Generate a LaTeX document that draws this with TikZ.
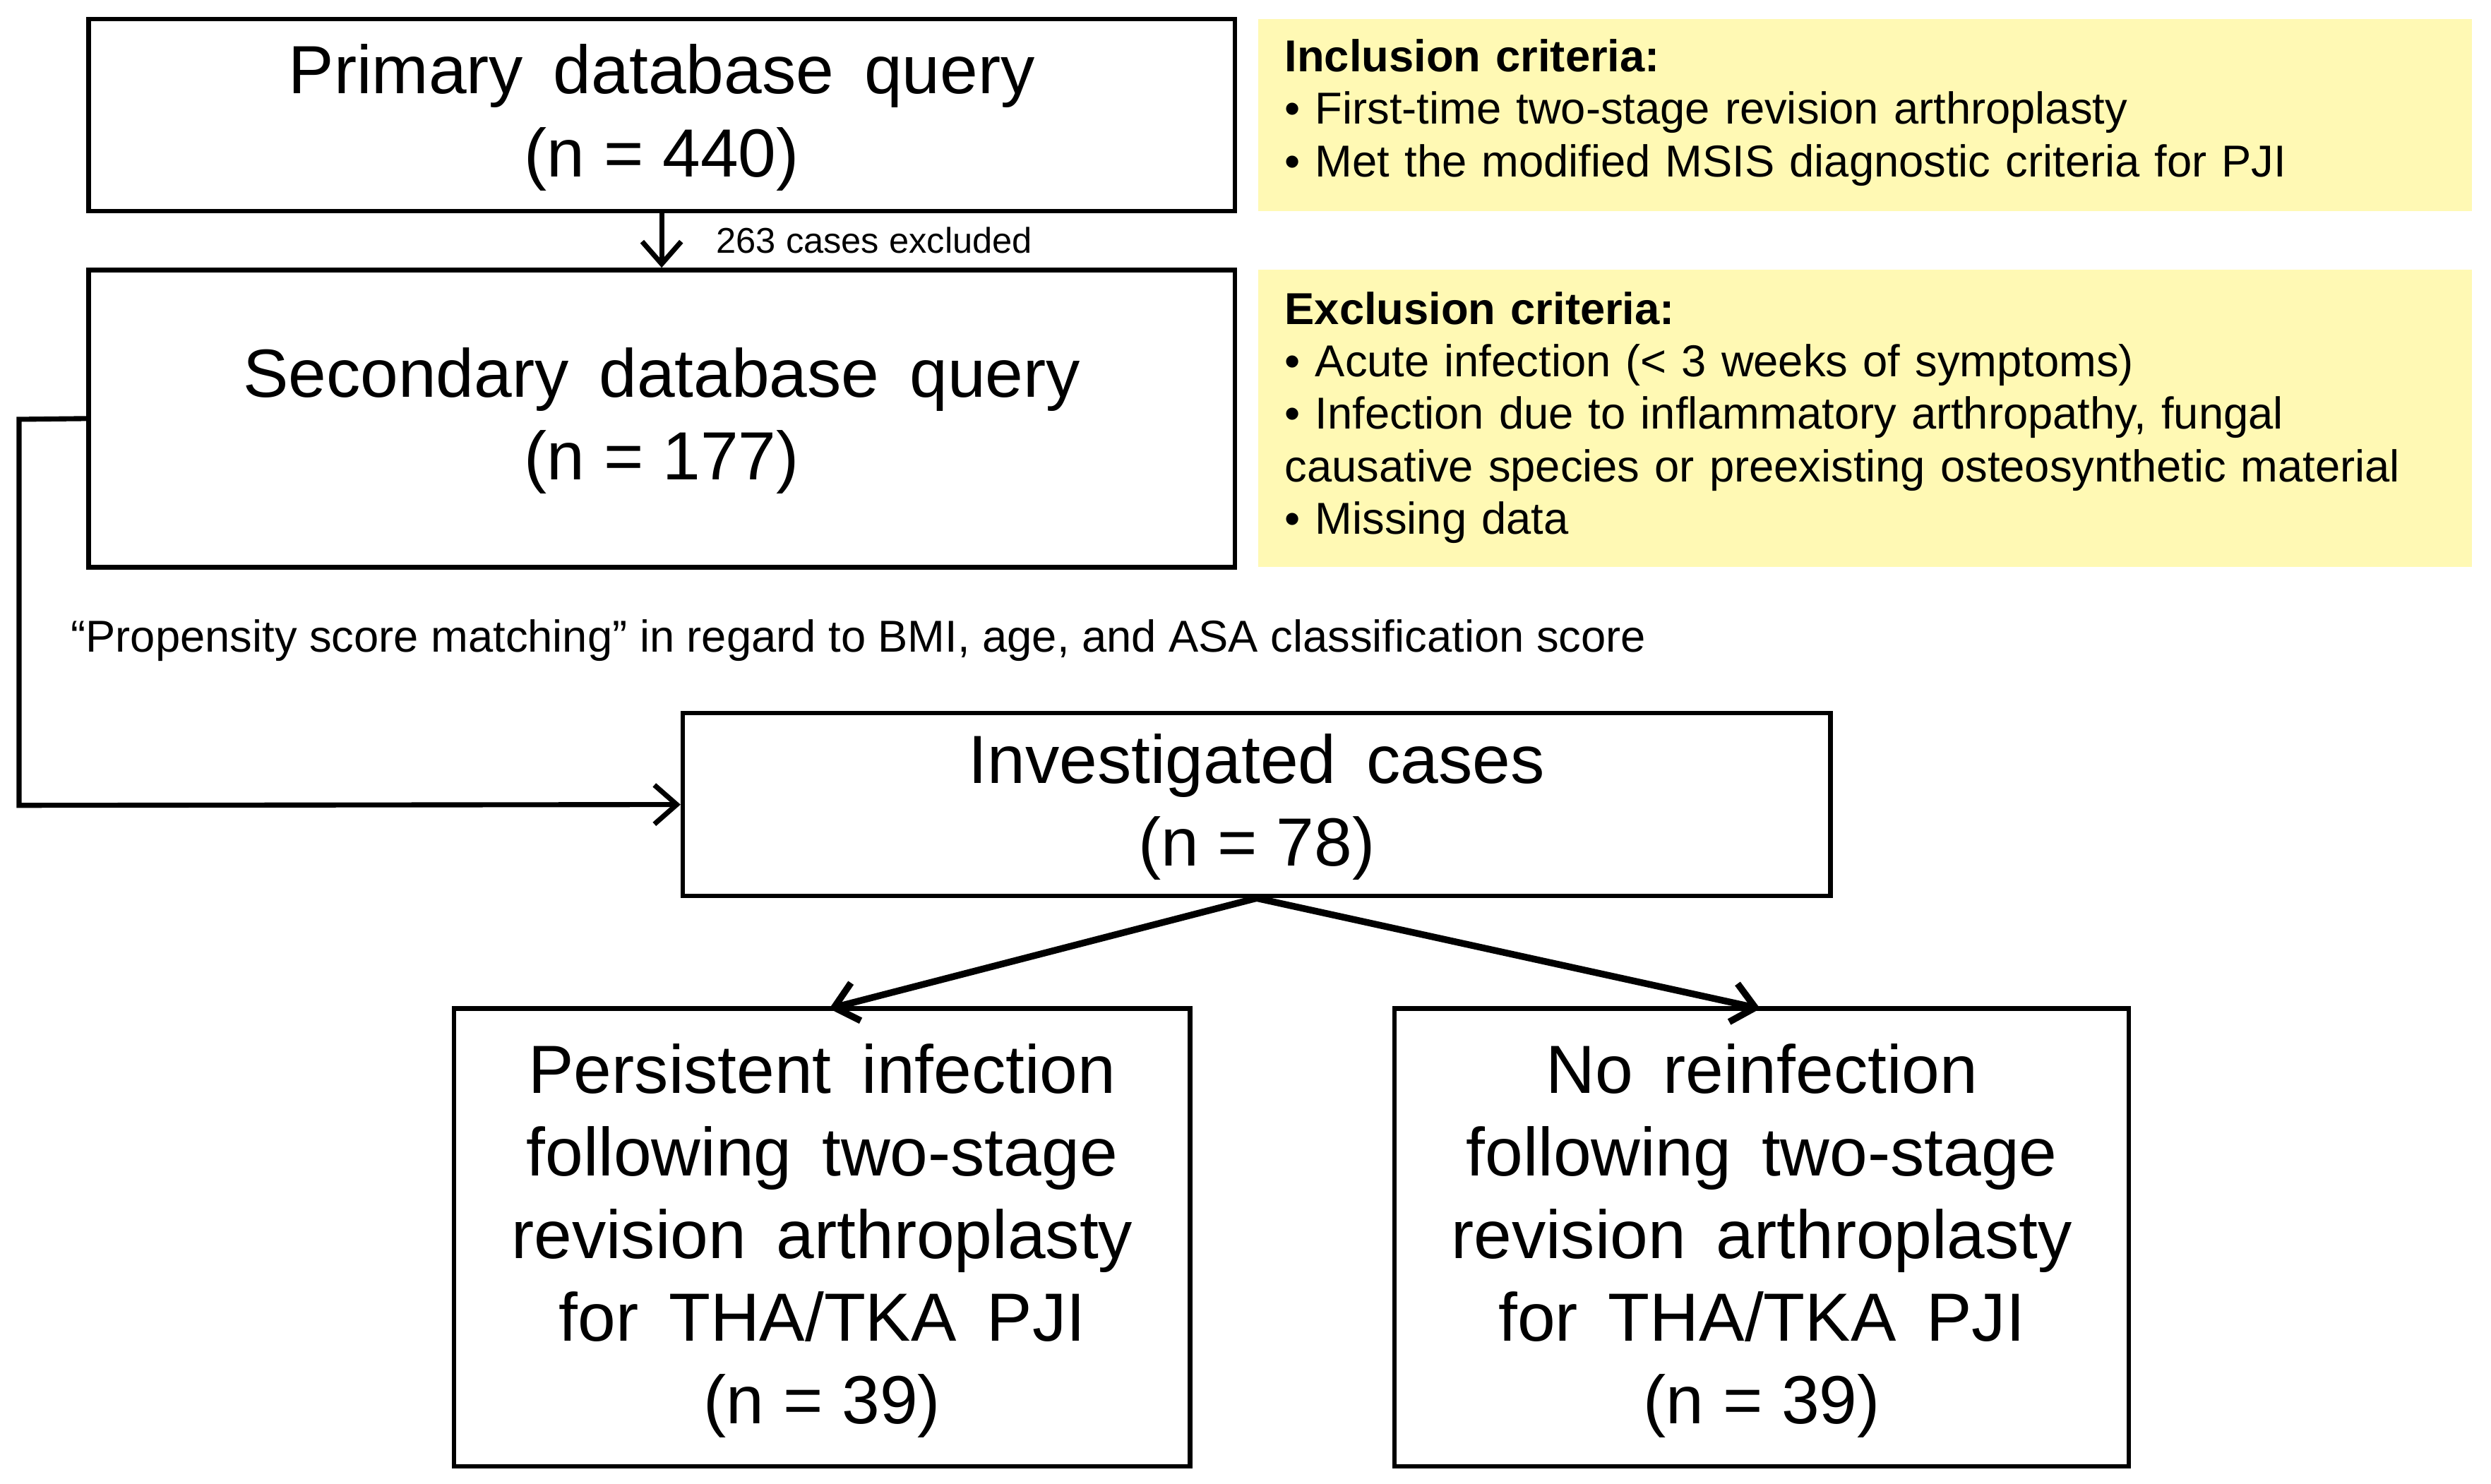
\documentclass[tikz,border=0pt]{standalone}
\usepackage{fontspec}
\setmainfont{Liberation Sans}
\usetikzlibrary{arrows.meta}
\definecolor{ylw}{RGB}{255,249,180}
\begin{document}
\begin{tikzpicture}[x=0.01cm,y=-0.01cm,
  box/.style={draw,line width=0.8pt,minimum width=0pt},
  big/.style={font=\fontsize{12.2}{14.8}\selectfont,align=center},
  crit/.style={fill=ylw,anchor=north west,inner sep=0pt},
  ctext/.style={font=\fontsize{8}{9.9}\selectfont,align=left,anchor=north west,inner sep=0pt,text width=7.3cm},
  arr/.style={-{Straight Barb[length=4pt,width=7pt]},line width=0.9pt}]
\useasboundingbox (0,0) rectangle (1568,934);
\fill[white] (0,0) rectangle (1568,934);
% boxes
\node[box,minimum width=7.21cm,minimum height=1.21cm] (p) at (416.5,72.5) {};
\node[big] at (416.5,74) {Primary\, database\, query\\(n = 440)};
\node[box,minimum width=7.21cm,minimum height=1.87cm] (s) at (416.5,263.5) {};
\node[big] at (416.5,265) {Secondary\, database\, query\\(n = 177)};
\node[box,minimum width=7.22cm,minimum height=1.15cm] (i) at (791,506.5) {};
\node[big] at (791,508) {Investigated\, cases\\(n = 78)};
\node[box,minimum width=4.63cm,minimum height=2.88cm] (l) at (517.5,779) {};
\node[big] at (517.5,781) {Persistent\, infection\\following\, two-stage\\revision\, arthroplasty\\for\, THA/TKA\, PJI\\(n = 39)};
\node[box,minimum width=4.62cm,minimum height=2.88cm] (r) at (1109,779) {};
\node[big] at (1109,781) {No\, reinfection\\following\, two-stage\\revision\, arthroplasty\\for\, THA/TKA\, PJI\\(n = 39)};
% criteria
\fill[ylw] (792,12) rectangle (1556,133);
\fill[ylw] (792,170) rectangle (1556,357);
\node[ctext] (inc) at (808,24) {\textbf{Inclusion criteria:}\\[-0.5pt]
\textbullet\ First-time two-stage revision arthroplasty\\[-0.5pt]
\textbullet\ Met the modified MSIS diagnostic criteria for PJI};
\node[ctext] (exc) at (808,183) {\textbf{Exclusion criteria:}\\[-0.5pt]
\textbullet\ Acute infection (< 3 weeks of symptoms)\\[-0.5pt]
\textbullet\ Infection due to inflammatory arthropathy, fungal\\[-0.5pt]
causative species or preexisting osteosynthetic material\\[-0.5pt]
\textbullet\ Missing data};
% connectors
\draw[arr] (p.south) -- (s.north) node[midway,right=6pt,font=\fontsize{6.4}{7}\selectfont] {263 cases excluded};
\coordinate (c1) at (12,264);
\coordinate (c2) at (12,507);
\draw[arr] (s.west) -- (c1) -- (c2) -- (i.west);
\node[anchor=west,inner sep=0pt,font=\fontsize{8}{9.6}\selectfont] (ps) at (44,403) {“Propensity score matching” in regard to BMI, age, and ASA classification score};
\coordinate (lt) at (522,635);
\coordinate (rt) at (1108,635);
\draw[arr,line width=1.2pt] (i.south) -- (lt);
\draw[arr,line width=1.2pt] (i.south) -- (rt);
\end{tikzpicture}
\end{document}
